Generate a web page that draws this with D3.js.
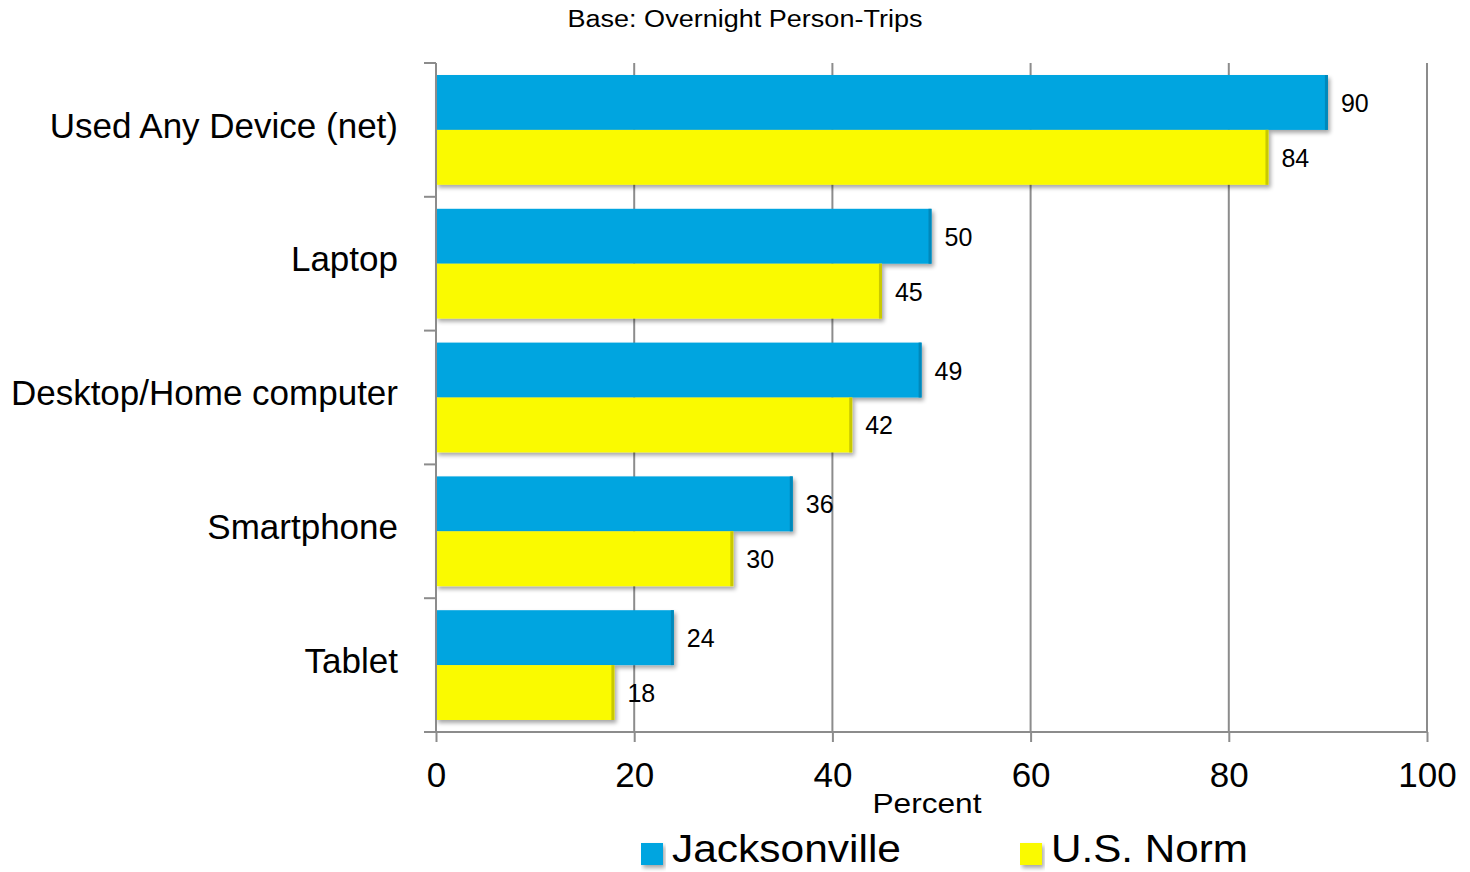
<!DOCTYPE html>
<html>
<head>
<meta charset="utf-8">
<script src="https://cdn.jsdelivr.net/npm/d3@7"></script>
<style>
  html, body { margin: 0; padding: 0; background: #fff; }
  svg { display: block; }
</style>
</head>
<body>
<svg id="chart" width="1470" height="872"></svg>
<script>
// Device usage on overnight trips, percent of person-trips
const categories = ["Used Any Device (net)", "Laptop", "Desktop/Home computer", "Smartphone", "Tablet"];
const jacksonville = [90, 50, 49, 36, 24];
const usNorm = [84, 45, 42, 30, 18];
const seriesNames = ["Jacksonville", "U.S. Norm"];
const xTicks = [0, 20, 40, 60, 80, 100];

const colors = ["#00A5E0", "#FAFA00"];
const edgeColors = ["#0088BA", "#C9C900"];
const FONT = "Liberation Sans, Arial, sans-serif";

const svg = d3.select("#chart");
const margin = { left: 436, right: 43, top: 63, bottom: 140 };
const W = 1470, H = 872;
const innerW = W - margin.left - margin.right;
const innerH = H - margin.top - margin.bottom;

const defs = svg.append("defs");
const f = defs.append("filter").attr("id", "shadow")
  .attr("x", "-5%").attr("y", "-20%").attr("width", "115%").attr("height", "150%");
f.append("feGaussianBlur").attr("in", "SourceAlpha").attr("stdDeviation", 2);
f.append("feOffset").attr("dx", 2).attr("dy", 3).attr("result", "ob");
f.append("feComponentTransfer").append("feFuncA").attr("type", "linear").attr("slope", 0.35);
const m = f.append("feMerge");
m.append("feMergeNode");
m.append("feMergeNode").attr("in", "SourceGraphic");

const g = svg.append("g").attr("transform", `translate(${margin.left},${margin.top})`);

const x = d3.scaleLinear().domain([0, 100]).range([0, innerW]);
const y = d3.scaleBand().domain(categories).range([0, innerH]).padding(0);
const inner = d3.scaleBand().domain(seriesNames).range([12, y.bandwidth() - 12]).padding(0);

const axisColor = "#8c8c8c";

// vertical gridlines
g.selectAll("line.grid").data(xTicks.filter(t => t > 0)).enter().append("line")
  .attr("class", "grid")
  .attr("x1", d => x(d)).attr("x2", d => x(d))
  .attr("y1", 0).attr("y2", innerH)
  .attr("stroke", axisColor).attr("stroke-width", 2);

// bars with value labels
const series = [jacksonville, usNorm];
series.forEach((vals, si) => {
  const bars = g.append("g").selectAll("g").data(categories).enter().append("g")
    .attr("filter", "url(#shadow)");
  bars.append("rect")
    .attr("x", x(0))
    .attr("y", d => y(d) + inner(seriesNames[si]))
    .attr("width", (d, i) => x(vals[i]) - x(0))
    .attr("height", inner.bandwidth())
    .attr("fill", colors[si]);
  // darker right edge for the bevel look
  bars.append("rect")
    .attr("x", (d, i) => x(vals[i]) - 3)
    .attr("y", d => y(d) + inner(seriesNames[si]))
    .attr("width", 3)
    .attr("height", inner.bandwidth())
    .attr("fill", edgeColors[si]);
  g.append("g").selectAll("text").data(categories).enter().append("text")
    .attr("x", (d, i) => x(vals[i]) + 13)
    .attr("y", d => y(d) + inner(seriesNames[si]) + inner.bandwidth() / 2)
    .attr("dy", "0.38em")
    .attr("font-family", FONT)
    .attr("font-size", 25)
    .attr("fill", "#000")
    .text((d, i) => vals[i]);
});

// left axis with category ticks at band boundaries
g.append("line").attr("x1", 0).attr("x2", 0).attr("y1", 0).attr("y2", innerH)
  .attr("stroke", axisColor).attr("stroke-width", 2);
const bounds = categories.map(c => y(c)).concat([innerH]);
g.selectAll("line.ytick").data(bounds).enter().append("line")
  .attr("x1", -12).attr("x2", 0).attr("y1", d => d).attr("y2", d => d)
  .attr("stroke", axisColor).attr("stroke-width", 2);

// bottom axis
const xAxis = g.append("g").attr("transform", `translate(0,${innerH})`)
  .call(d3.axisBottom(x).tickValues(xTicks).tickSize(10).tickPadding(20).tickFormat(d3.format("d")));
xAxis.select(".domain").remove();
xAxis.selectAll(".tick line").attr("stroke", axisColor).attr("stroke-width", 2);
xAxis.selectAll(".tick text")
  .attr("font-family", FONT)
  .attr("font-size", 35).attr("fill", "#000");
xAxis.append("line").attr("x1", -12).attr("x2", innerW).attr("y1", 0).attr("y2", 0)
  .attr("stroke", axisColor).attr("stroke-width", 2);

// category labels
g.selectAll("text.cat").data(categories).enter().append("text")
  .attr("class", "cat")
  .attr("x", -38)
  .attr("y", d => y(d) + y.bandwidth() / 2)
  .attr("dy", "0.22em")
  .attr("text-anchor", "end")
  .attr("font-family", FONT)
  .attr("font-size", 35)
  .attr("fill", "#000")
  .text(d => d);

// titles
svg.append("text").attr("x", 745).attr("y", 27).attr("text-anchor", "middle")
  .attr("font-family", FONT).attr("font-size", 23)
  .attr("textLength", 355).attr("lengthAdjust", "spacingAndGlyphs")
  .text("Base: Overnight Person-Trips");
svg.append("text").attr("x", 927).attr("y", 813).attr("text-anchor", "middle")
  .attr("font-family", FONT).attr("font-size", 28)
  .attr("textLength", 109).attr("lengthAdjust", "spacingAndGlyphs")
  .text("Percent");

// legend
const legendX = [641, 1020];
const legendW = [229, 197];
seriesNames.forEach((name, i) => {
  const lg = svg.append("g").attr("transform", `translate(${legendX[i]},843)`);
  lg.append("rect").attr("width", 22).attr("height", 22).attr("fill", colors[i]).attr("filter", "url(#shadow)");
  lg.append("text").attr("x", 31).attr("y", 19)
    .attr("font-family", FONT).attr("font-size", 38)
    .attr("textLength", legendW[i]).attr("lengthAdjust", "spacingAndGlyphs")
    .text(name);
});
</script>
</body>
</html>
